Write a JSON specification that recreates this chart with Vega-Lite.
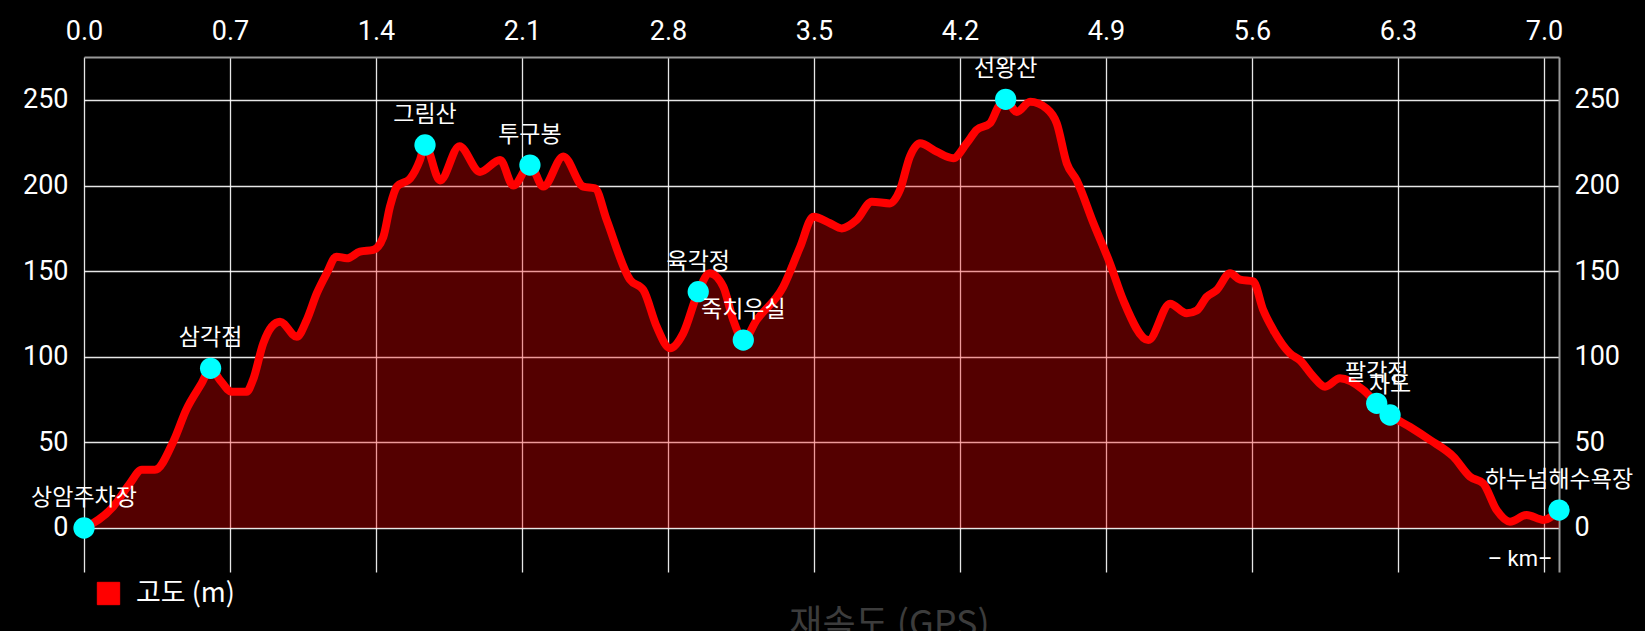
{
  "$schema": "https://vega.github.io/schema/vega-lite/v6.json",
  "autosize": {"type": "none"},
  "width": 1475,
  "height": 515,
  "padding": {"left": 84, "top": 57, "right": 86, "bottom": 59},
  "background": "#000000",
  "config": {
    "view": {"stroke": null},
    "font": "Roboto",
    "axis": {"labelFont": "Roboto", "labelColor": "#ffffff", "labelFontSize": 27, "ticks": false, "gridColor": "#ffffff", "gridWidth": 1.3, "gridOpacity": 0.9, "titleColor": "#ffffff"}
  },
  "title": {"text": "재속도 (GPS)", "orient": "bottom", "anchor": "middle", "color": "#3c3c3c", "fontSize": 36, "font": "Noto Sans CJK KR", "fontWeight": "normal", "offset": 1, "dx": 68},
  "datasets": {
    "profile": [
      {"km": 0, "elev": 0}, {"km": 0.14, "elev": 12.5}, {"km": 0.22, "elev": 26}, {"km": 0.277, "elev": 34},
      {"km": 0.34, "elev": 34}, {"km": 0.43, "elev": 51}, {"km": 0.49, "elev": 69}, {"km": 0.564, "elev": 84.5},
      {"km": 0.607, "elev": 93.3}, {"km": 0.652, "elev": 86.4}, {"km": 0.708, "elev": 79.6}, {"km": 0.78, "elev": 79.6},
      {"km": 0.81, "elev": 86.4}, {"km": 0.86, "elev": 108}, {"km": 0.9, "elev": 117.6}, {"km": 0.94, "elev": 120.5},
      {"km": 1.02, "elev": 111.7}, {"km": 1.068, "elev": 121.5}, {"km": 1.116, "elev": 137}, {"km": 1.164, "elev": 148.8},
      {"km": 1.21, "elev": 158.5}, {"km": 1.26, "elev": 157.5}, {"km": 1.323, "elev": 161.4}, {"km": 1.387, "elev": 162.4},
      {"km": 1.435, "elev": 170}, {"km": 1.467, "elev": 187.7}, {"km": 1.5, "elev": 199.4}, {"km": 1.563, "elev": 204},
      {"km": 1.611, "elev": 215}, {"km": 1.635, "elev": 223.7}, {"km": 1.707, "elev": 203}, {"km": 1.8, "elev": 223},
      {"km": 1.899, "elev": 208}, {"km": 1.995, "elev": 215}, {"km": 2.058, "elev": 200}, {"km": 2.138, "elev": 212},
      {"km": 2.202, "elev": 199.4}, {"km": 2.298, "elev": 217}, {"km": 2.394, "elev": 199.4}, {"km": 2.45, "elev": 198.4},
      {"km": 2.506, "elev": 180}, {"km": 2.618, "elev": 145}, {"km": 2.682, "elev": 139}, {"km": 2.746, "elev": 117.6},
      {"km": 2.81, "elev": 105}, {"km": 2.873, "elev": 113.7}, {"km": 2.945, "elev": 138}, {"km": 3.0, "elev": 148.8},
      {"km": 3.065, "elev": 141}, {"km": 3.113, "elev": 121.5}, {"km": 3.161, "elev": 109.8}, {"km": 3.225, "elev": 121.5},
      {"km": 3.353, "elev": 141}, {"km": 3.433, "elev": 164}, {"km": 3.497, "elev": 181.8}, {"km": 3.577, "elev": 178},
      {"km": 3.633, "elev": 175}, {"km": 3.705, "elev": 180}, {"km": 3.777, "elev": 190.6}, {"km": 3.864, "elev": 189.6},
      {"km": 3.912, "elev": 197.4}, {"km": 3.96, "elev": 217}, {"km": 4.008, "elev": 224.7}, {"km": 4.088, "elev": 219.8},
      {"km": 4.168, "elev": 216}, {"km": 4.232, "elev": 224.7}, {"km": 4.28, "elev": 232.5}, {"km": 4.344, "elev": 236.4},
      {"km": 4.384, "elev": 246}, {"km": 4.419, "elev": 250.4}, {"km": 4.472, "elev": 243}, {"km": 4.536, "elev": 249},
      {"km": 4.616, "elev": 245}, {"km": 4.664, "elev": 236.4}, {"km": 4.712, "elev": 213}, {"km": 4.76, "elev": 203},
      {"km": 4.84, "elev": 178}, {"km": 4.919, "elev": 154.6}, {"km": 4.983, "elev": 133}, {"km": 5.103, "elev": 109.8},
      {"km": 5.207, "elev": 131}, {"km": 5.287, "elev": 125.4}, {"km": 5.335, "elev": 127}, {"km": 5.383, "elev": 135},
      {"km": 5.431, "elev": 139}, {"km": 5.495, "elev": 148.8}, {"km": 5.543, "elev": 145}, {"km": 5.606, "elev": 144},
      {"km": 5.654, "elev": 127.3}, {"km": 5.702, "elev": 115.7}, {"km": 5.782, "elev": 102}, {"km": 5.83, "elev": 98},
      {"km": 5.894, "elev": 88.4}, {"km": 5.95, "elev": 82.5}, {"km": 6.022, "elev": 87.4}, {"km": 6.134, "elev": 80.6},
      {"km": 6.198, "elev": 72.8}, {"km": 6.262, "elev": 66}, {"km": 6.358, "elev": 59}, {"km": 6.454, "elev": 51.4},
      {"km": 6.566, "elev": 41.6}, {"km": 6.645, "elev": 30}, {"km": 6.709, "elev": 26}, {"km": 6.773, "elev": 10.5},
      {"km": 6.837, "elev": 3.7}, {"km": 6.917, "elev": 7.6}, {"km": 6.997, "elev": 4.7}, {"km": 7.072, "elev": 10.5}
    ],
    "waypoints": [
      {"name": "상암주차장", "km": 0, "elev": 0},
      {"name": "삼각점", "km": 0.607, "elev": 93.3},
      {"name": "그림산", "km": 1.635, "elev": 223.7},
      {"name": "투구봉", "km": 2.138, "elev": 212},
      {"name": "육각정", "km": 2.945, "elev": 138},
      {"name": "죽치우실", "km": 3.161, "elev": 109.8},
      {"name": "선왕산", "km": 4.419, "elev": 250.4},
      {"name": "팔각정", "km": 6.198, "elev": 72.8},
      {"name": "차도", "km": 6.262, "elev": 66},
      {"name": "하누넘해수욕장", "km": 7.072, "elev": 10.5}
    ]
  },
  "resolve": {"axis": {"x": "independent", "y": "independent"}},
  "layer": [
    {
      "data": {"name": "profile"},
      "mark": {"type": "area", "interpolate": "monotone", "color": "#ff0000", "fillOpacity": 0.33},
      "encoding": {
        "x": {"field": "km", "type": "quantitative", "scale": {"domain": [0, 7.072], "nice": false, "zero": false},
          "axis": {"orient": "top", "values": [0, 0.7, 1.4, 2.1, 2.8, 3.5, 4.2, 4.9, 5.6, 6.3, 7.0], "format": ".1f", "title": null, "labelPadding": 12, "domain": true, "domainColor": "#999999", "domainWidth": 2, "labelFlush": false, "labelOverlap": false}},
        "y": {"field": "elev", "type": "quantitative", "scale": {"domain": [-25.7, 275.1], "nice": false, "zero": false},
          "axis": {"orient": "left", "values": [0, 50, 100, 150, 200, 250], "title": null, "labelPadding": 16, "domain": false, "labelFlush": false, "labelOverlap": false}},
        "y2": {"datum": 0}
      }
    },
    {
      "data": {"name": "profile"},
      "mark": {"type": "line", "interpolate": "monotone", "strokeWidth": 8},
      "encoding": {
        "x": {"field": "km", "type": "quantitative",
          "axis": {"orient": "bottom", "labels": false, "grid": false, "domain": false, "title": "– km–", "titleFontSize": 22, "titleFontWeight": "normal", "titleFont": "Roboto", "titleAnchor": "end", "titleAlign": "right", "titleBaseline": "middle", "titleX": 1468, "titleY": -14}},
        "y": {"field": "elev", "type": "quantitative",
          "axis": {"orient": "right", "values": [0, 50, 100, 150, 200, 250], "title": null, "grid": false, "labelPadding": 15, "domain": true, "domainColor": "#999999", "domainWidth": 2, "labelFlush": false, "labelOverlap": false}},
        "color": {"datum": "고도 (m)", "scale": {"range": ["#ff0000"]},
          "legend": {"title": null, "orient": "none", "legendX": 11, "legendY": 523, "symbolType": "square", "symbolFillColor": "#ff0000", "symbolStrokeColor": "#ff0000", "symbolStrokeWidth": 1, "symbolSize": 500, "labelFontSize": 27, "labelColor": "#ffffff", "labelFont": "Noto Sans CJK KR", "labelOffset": 14}}
      }
    },
    {
      "data": {"name": "waypoints"},
      "mark": {"type": "circle", "size": 452, "color": "#00ffff", "opacity": 1},
      "encoding": {
        "x": {"field": "km", "type": "quantitative", "axis": null},
        "y": {"field": "elev", "type": "quantitative", "axis": null}
      }
    },
    {
      "data": {"name": "waypoints"},
      "mark": {"type": "text", "color": "#ffffff", "fontSize": 23, "font": "Noto Sans CJK KR", "baseline": "alphabetic", "align": "center", "dy": -23},
      "encoding": {
        "x": {"field": "km", "type": "quantitative", "axis": null},
        "y": {"field": "elev", "type": "quantitative", "axis": null},
        "text": {"field": "name"}
      }
    }
  ]
}
